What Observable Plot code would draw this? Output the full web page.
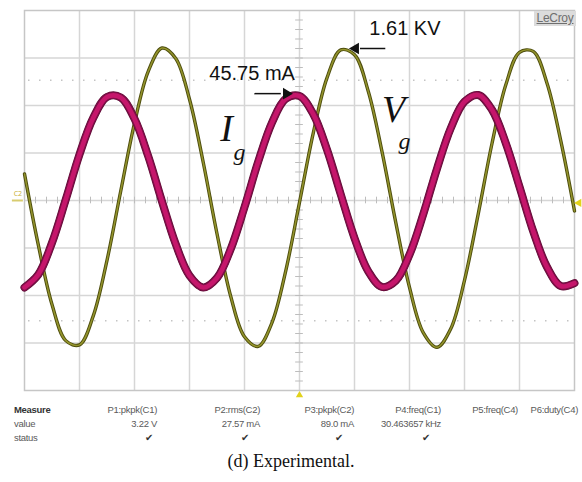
<!DOCTYPE html>
<html><head><meta charset="utf-8">
<script src="https://cdn.jsdelivr.net/npm/d3@7"></script>
<script src="https://cdn.jsdelivr.net/npm/@observablehq/plot@0.6"></script>
<style>
html,body{margin:0;padding:0;background:#fff;}
body{width:582px;height:482px;overflow:hidden;position:relative;font-family:"Liberation Sans",Arial,sans-serif;}
#chart{position:absolute;left:0;top:0;}
.logo{position:absolute;left:534px;top:11px;width:42px;height:15px;background:#dcdcdc;color:#6e6e6e;font-size:12px;line-height:15px;text-align:center;text-decoration:underline;letter-spacing:-0.3px;}
.cell{position:absolute;font-size:9.5px;color:#5a5a5a;white-space:nowrap;letter-spacing:-0.3px;}
.caption{position:absolute;left:0;width:582px;top:451px;text-align:center;font-family:"Liberation Serif","Times New Roman",serif;font-size:18px;color:#111;}
</style></head><body>
<div id="chart"></div>
<div class="logo">LeCroy</div>
<div id="table"></div>
<div class="caption">(d) Experimental.</div>
<script>
// time in screen divisions (0..10), values in vertical divisions (-4..4)
const time = [0,0.25,0.5,0.75,1,1.25,1.5,1.75,2,2.25,2.5,2.75,3,3.25,3.5,3.75,4,4.25,4.5,4.75,5,5.25,5.5,5.75,6,6.25,6.5,6.75,7,7.25,7.5,7.75,8,8.25,8.5,8.75,9,9.25,9.5,9.75,10];
const vg = [0.56,-0.93,-2.19,-2.95,-3.04,-2.43,-1.26,0.20,1.63,2.72,3.21,2.99,2.13,0.80,-0.70,-2.02,-2.87,-3.07,-2.57,-1.48,-0.04,1.42,2.58,3.17,3.07,2.30,1.03,-0.46,-1.83,-2.78,-3.09,-2.70,-1.68,-0.28,1.20,2.43,3.12,3.14,2.47,1.26,-0.22];
const ig = [-1.83,-1.56,-0.89,0.02,0.97,1.74,2.18,2.17,1.72,0.93,-0.02,-0.92,-1.58,-1.83,-1.63,-1.02,-0.14,0.82,1.64,2.14,2.20,1.82,1.07,0.13,-0.79,-1.49,-1.82,-1.69,-1.14,-0.29,0.67,1.52,2.08,2.22,1.91,1.21,0.29,-0.65,-1.40,-1.80,-1.74];

const gridX = [1,2,3,4,5,6,7,8,9];
const gridY = [-3,-2,-1,0,1,2,3];
const dottedY = [2.53,-2.53];

const annoLabels = ["45.75 mA","1.61 KV"];
const annoX = [3.36,6.27];
const annoY = [2.68,3.61];
const arrowFrom = [4.18,6.56];
const arrowTo = [4.66,6.1];
const arrowHead = [4.76,6.02];
const arrowY = [2.25,3.2];
const arrowRotate = [90,-90];

const symLabels = ["I","V"];
const symX = [3.56,6.5];
const symY = [1.5,1.9];
const subX = [3.8,6.8];
const subY = [1.02,1.25];

const measureNames = ["P1:pkpk(C1)","P2:rms(C2)","P3:pkpk(C2)","P4:freq(C1)","P5:freq(C4)","P6:duty(C4)"];
const measureValues = ["3.22 V","27.57 mA","89.0 mA","30.463657 kHz","",""];
const measureStatus = [true,true,true,true,false,false];
const rowLabels = ["Measure","value","status"];

const wave = time.map((t,i)=>({t, v:vg[i], i:ig[i]}));
const minorX = d3.range(0,10.001,0.2);
const minorY = d3.range(-4,4.001,0.2);
const annos = annoLabels.map((label,k)=>({label,x:annoX[k],y:annoY[k],x1:arrowFrom[k],x2:arrowTo[k],hx:arrowHead[k],ay:arrowY[k],rot:arrowRotate[k]}));
const syms = symLabels.map((s,k)=>({s,x:symX[k],y:symY[k],sx:subX[k],sy:subY[k]}));

const chart = Plot.plot({
  width:582, height:400,
  marginLeft:24, marginRight:8, marginTop:10, marginBottom:10,
  x:{domain:[0,10], axis:null},
  y:{domain:[-4,4], axis:null},
  marks:[
    Plot.ruleX(gridX,{stroke:"#d6d6d6",strokeWidth:1.5}),
    Plot.ruleY(gridY,{stroke:"#d6d6d6",strokeWidth:1.5}),
    Plot.ruleY(dottedY,{stroke:"#c4c4c4",strokeWidth:1.5,strokeDasharray:"1.5,9.5",strokeDashoffset:-4}),
    Plot.ruleX(minorX,{y1:-0.07,y2:0.07,stroke:"#bdbdbd"}),
    Plot.ruleY(minorY,{x1:4.93,x2:5.07,stroke:"#bdbdbd"}),
    Plot.frame({stroke:"#c6c6c6",strokeWidth:1.5}),
    Plot.line(wave,{x:"t",y:"v",curve:"catmull-rom",stroke:"#4d4d0e",strokeWidth:3.4}),
    Plot.line(wave,{x:"t",y:"v",curve:"catmull-rom",stroke:"#94942c",strokeWidth:1.5}),
    Plot.line(wave,{x:"t",y:"i",curve:"catmull-rom",stroke:"#5e0a34",strokeWidth:8}),
    Plot.line(wave,{x:"t",y:"i",curve:"catmull-rom",stroke:"#7e0f48",strokeWidth:7,strokeDasharray:"1,1.5"}),
    Plot.line(wave,{x:"t",y:"i",curve:"catmull-rom",stroke:"#c5166b",strokeWidth:4.6}),
    Plot.link(annos,{x1:"x1",x2:"x2",y1:"ay",y2:"ay",stroke:"#111",strokeWidth:1.5}),
    Plot.dot(annos,{x:"hx",y:"ay",symbol:"triangle2",r:5.5,fill:"#111",rotate:"rot"}),
    Plot.text(annos,{x:"x",y:"y",text:"label",textAnchor:"start",fontSize:20,fill:"#111",fontFamily:"Liberation Sans, Arial, sans-serif"}),
    Plot.text(syms,{x:"x",y:"y",text:"s",textAnchor:"start",fontSize:38,fontStyle:"italic",fill:"#111",fontFamily:"Liberation Serif, Times New Roman, serif"}),
    Plot.text(syms,{x:"sx",y:"sy",text:()=>"g",textAnchor:"start",fontSize:24,fontStyle:"italic",fill:"#111",fontFamily:"Liberation Serif, Times New Roman, serif"}),
    Plot.text(["C2"],{x:-0.12,y:0.15,text:d=>d,fontSize:7,fill:"#c9b23a"}),
    Plot.ruleY([0],{x1:-0.22,x2:-0.02,stroke:"#d8cc70",strokeWidth:2}),
    Plot.dot([0],{x:10.08,y:-0.05,symbol:"triangle2",r:4,fill:"#e2d21c",rotate:-90}),
    Plot.dot([0],{x:5,y:-4.1,symbol:"triangle2",r:3.5,fill:"#e2d21c"})
  ]
});
document.getElementById("chart").appendChild(chart);

// measurement table
const tbl = document.getElementById("table");
const colRight = [157,260,354,441,518,578];
const rowTop = [404,418,432];
function cell(text, style){const d=document.createElement("div");d.className="cell";d.textContent=text;Object.assign(d.style,style);tbl.appendChild(d);}
rowLabels.forEach((r,k)=>cell(r,{left:"14px",top:rowTop[k]+"px",fontWeight:k===0?"bold":"normal",color:k===0?"#333":"#5a5a5a"}));
measureNames.forEach((n,k)=>{
  const right = (582-colRight[k])+"px";
  cell(n,{right,top:rowTop[0]+"px"});
  if(measureValues[k]) cell(measureValues[k],{right,top:rowTop[1]+"px"});
  if(measureStatus[k]) cell("\u2714",{right:(582-colRight[k]+(k===0?4:11))+"px",top:rowTop[2]+"px",color:"#333",fontSize:"10px"});
});
</script>
</body></html>
